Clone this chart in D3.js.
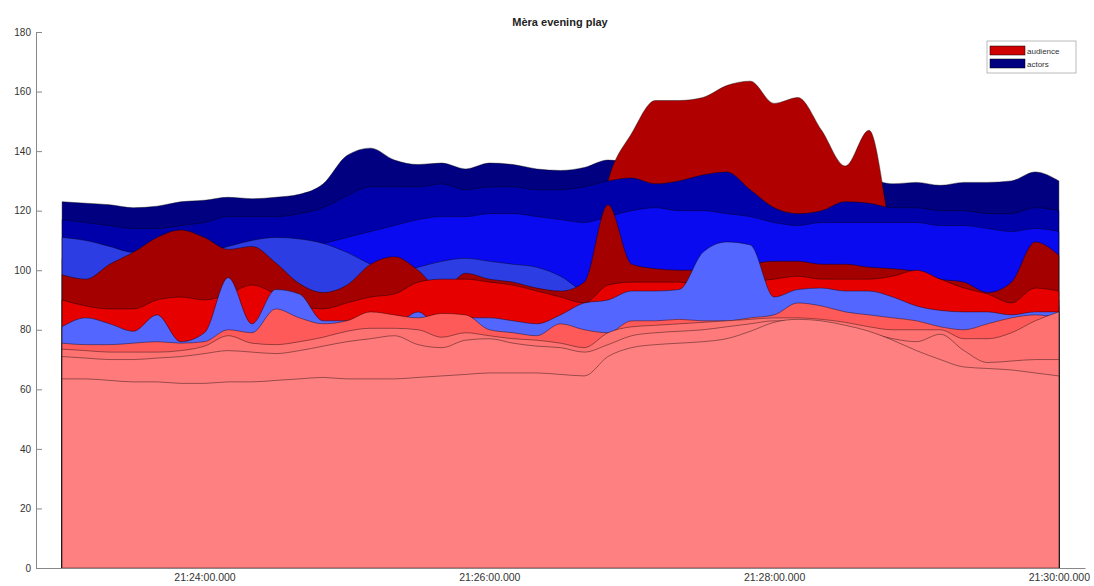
<!DOCTYPE html>
<html>
<head>
<meta charset="utf-8">
<script src="https://cdn.jsdelivr.net/npm/d3@7"></script>
<style>
  html, body { margin: 0; padding: 0; background: #fff; }
  svg { display: block; font-family: "Liberation Sans", Arial, sans-serif; }
</style>
</head>
<body>
<svg id="chart" width="1094" height="586"></svg>
<script>
// ---------- data ----------
const title = "Mèra evening play";
const legendLabels = ["audience", "actors"];
const yTicks = [0, 20, 40, 60, 80, 100, 120, 140, 160, 180];
const xTickLabels = ["21:24:00", "21:26:00", "21:28:00", "21:30:00"];

const times = [
  "21:23:00","21:23:10","21:23:20","21:23:30","21:23:40","21:23:50",
  "21:24:00","21:24:10","21:24:20","21:24:30","21:24:40","21:24:50",
  "21:25:00","21:25:10","21:25:20","21:25:30","21:25:40","21:25:50",
  "21:26:00","21:26:10","21:26:20","21:26:30","21:26:40","21:26:50",
  "21:27:00","21:27:10","21:27:20","21:27:30","21:27:40","21:27:50",
  "21:28:00","21:28:10","21:28:20","21:28:30","21:28:40","21:28:50",
  "21:29:00","21:29:10","21:29:20","21:29:30","21:29:40","21:29:50",
  "21:30:00"
];

const navy = [123,122.5,122,121,121.5,123, 123.5,124.5,124,124.5,125.5,129,
  138.5,141,137,135.5,136,134, 136,135.5,134,133.5,134.5,137,
  136,135.5,135,135,135,135, 135,134.5,134.5,134,131,129,
  129.5,128.5,129.5,129.5,130,133, 130];
const redPeak = [90,90,90,90,90,90, 90,90,90,90,90,90,
  90,90,90,90,90,90, 90,90,90,90,90,130,
  146,157,157,158,162,163.5, 156,158,147,135,147,110,
  90,90,90,90,90,90, 90];
const blueMid = [117,116,115,114,114,115, 116,118,118,118,119,121,
  125,128,128,128,129,127, 128,128,127,127,128,130,
  131,129,130,132,133,127, 121,119,120,123,122.5,121,
  121,120,120,119,119,121, 120];
const blueBright = [104,104,104,104,104,104, 104,104,106,107,108,109,
  111,113,115,117,118,118, 119,119,118,117,116,118,
  120,121,120,120,119,118, 116,115,116,116,116,116,
  116,115,115,114,113,114, 113];
const periwinkle = [111,110,108,106,106,106, 106,108,110,111,110.5,109,
  106,102,99,101,103,104, 103,102,101,98,93,92,
  93,94,95,96,96,96, 95,94,93,92,91,90,
  88,88,88,88,88,88, 88];
const darkRed = [98.5,97,102,106,111,113.5, 111,107,108,102.5,95.5,92.5,
  95,102,104.5,100,93,99, 97,96,94,93,96,122,
  102,100.5,100,100,100,102, 103,103,102,102,101,100.5,
  99.5,97,96,92.5,96,109.5, 105];
const red = [90,88,87,87,90,91, 90,92,95,92,88,87,
  89,91,92,96,97,97, 96,95,93,91,89,95,
  96,96,96,95,95,96, 97,98,97,97,97,98,
  100,97,94,92,89,94, 93];
const lightBlue = [81,84,82,79.5,85,76, 79,97.5,82,93.5,92,83,
  83,83,82,86,80,84, 84,83,82,85,89,90,
  93,93,93.5,106,109.5,108.5, 91,93.5,94,93,93,91,
  88,86.5,86,86,85,86, 86];
const salmon = [75.5,75,75,75.5,76,75.5, 76,80,79,87,84,82,
  83,86,85,84,85.5,85, 80,79,78,82,80,79,
  83,83,83.5,83,83,84, 85,89,88,86,85,84,
  83,81,80,82,84,85, 84];
const pink2 = [73.5,73,72.5,72.5,72.5,73, 74.5,78,75.5,75,76,77.5,
  79.5,80.5,80.5,80,77.5,79, 78,77,76.5,75.5,74,79,
  81,81.5,82,82.5,83,83.5, 84,84,83.5,82.5,81,80,
  80,80,77,77,79,83, 86];
const pink3 = [71,70.5,70,70,70.5,71, 72,73,72.5,72,73,74.5,
  76,77,78,75,74,76.5, 77,75.5,74.5,74,72.5,75,
  78,79,79.5,80,81,82, 83,83,82.5,81,79,77,
  76,78.5,73,69,69.5,70, 70];
const base = [63.5,63.5,63,62.5,62.5,62, 62,62.5,62.5,63,63.5,64,
  63.5,63.5,63.5,64,64.5,65, 65.5,65.5,65.5,65,64.5,71,
  74,75,75.5,76,77,79.5, 82.5,83.5,83,81.5,79.5,76.5,
  73,70,67.5,67,66.5,65.5, 64.5];

// draw order (back to front) and colours
const layerNames  = ["navy","redPeak","blueMid","blueBright","periwinkle","darkRed","red","lightBlue","salmon","pink2","pink3","base"];
const layerValues = [navy, redPeak, blueMid, blueBright, periwinkle, darkRed, red, lightBlue, salmon, pink2, pink3, base];
const layerColors = ["#000080","#B00000","#0000AA","#0A0AF0","#2D3DE4","#A50000","#E60000","#5366FF","#FF5A5A","#FF7272","#FF7A7A","#FF8080"];
const legendColors = ["#D00000", "#000080"];

// ---------- chart ----------
const svg = d3.select("#chart");
const parse = d3.timeParse("%H:%M:%S");
const fmt = d3.timeFormat("%H:%M:%S.%L");

const x = d3.scaleTime()
  .domain([parse("21:22:49"), parse("21:30:11")])
  .range([36, 1085]);
const y = d3.scaleLinear().domain([0, 180]).range([568, 32]);

const tDates = times.map(parse);

const area = d3.area()
  .x((d, i) => x(tDates[i]))
  .y0(y(0))
  .y1(d => y(d))
  .curve(d3.curveMonotoneX);

const g = svg.append("g");
layerValues.forEach((vals, k) => {
  g.append("path")
    .datum(vals)
    .attr("class", "layer " + layerNames[k])
    .attr("d", area)
    .attr("fill", layerColors[k])
    .attr("stroke", "#000")
    .attr("stroke-opacity", 0.5)
    .attr("stroke-width", 0.8)
    .attr("stroke-linejoin", "round");
});

// y axis
const yAxis = d3.axisLeft(y).tickValues(yTicks).tickSizeInner(-6).tickSizeOuter(0).tickPadding(5);
const ya = svg.append("g").attr("transform", "translate(36,0)").call(yAxis);
ya.select(".domain").attr("stroke", "#888");
ya.selectAll(".tick line").attr("stroke", "#888");
ya.selectAll(".tick text").attr("fill", "#333").attr("font-size", "10px")
  .attr("font-family", "Liberation Sans, Arial, sans-serif");

// x axis
const xAxis = d3.axisBottom(x).tickValues(xTickLabels.map(parse)).tickFormat(fmt).tickSize(0).tickPadding(6);
const xa = svg.append("g").attr("transform", "translate(0,568)").call(xAxis);
xa.select(".domain").attr("stroke", "#888");
xa.selectAll(".tick text").attr("fill", "#333").attr("font-size", "10.5px")
  .attr("font-family", "Liberation Sans, Arial, sans-serif");

// title
svg.append("text")
  .attr("x", 560).attr("y", 26)
  .attr("text-anchor", "middle")
  .attr("font-size", "11px").attr("font-weight", "bold").attr("fill", "#222")
  .text(title);

// legend
const lg = svg.append("g").attr("transform", "translate(987,41)");
lg.append("rect").attr("width", 89).attr("height", 32)
  .attr("fill", "#fff").attr("stroke", "#aaa").attr("stroke-width", 0.8);
legendLabels.forEach((lab, i) => {
  lg.append("rect").attr("x", 3).attr("y", 5 + i * 13).attr("width", 35).attr("height", 9)
    .attr("fill", legendColors[i]).attr("stroke", "#000").attr("stroke-width", 0.5);
  lg.append("text").attr("x", 40).attr("y", 13 + i * 13)
    .attr("font-size", "8px").attr("fill", "#333").text(lab);
});
</script>
</body>
</html>
